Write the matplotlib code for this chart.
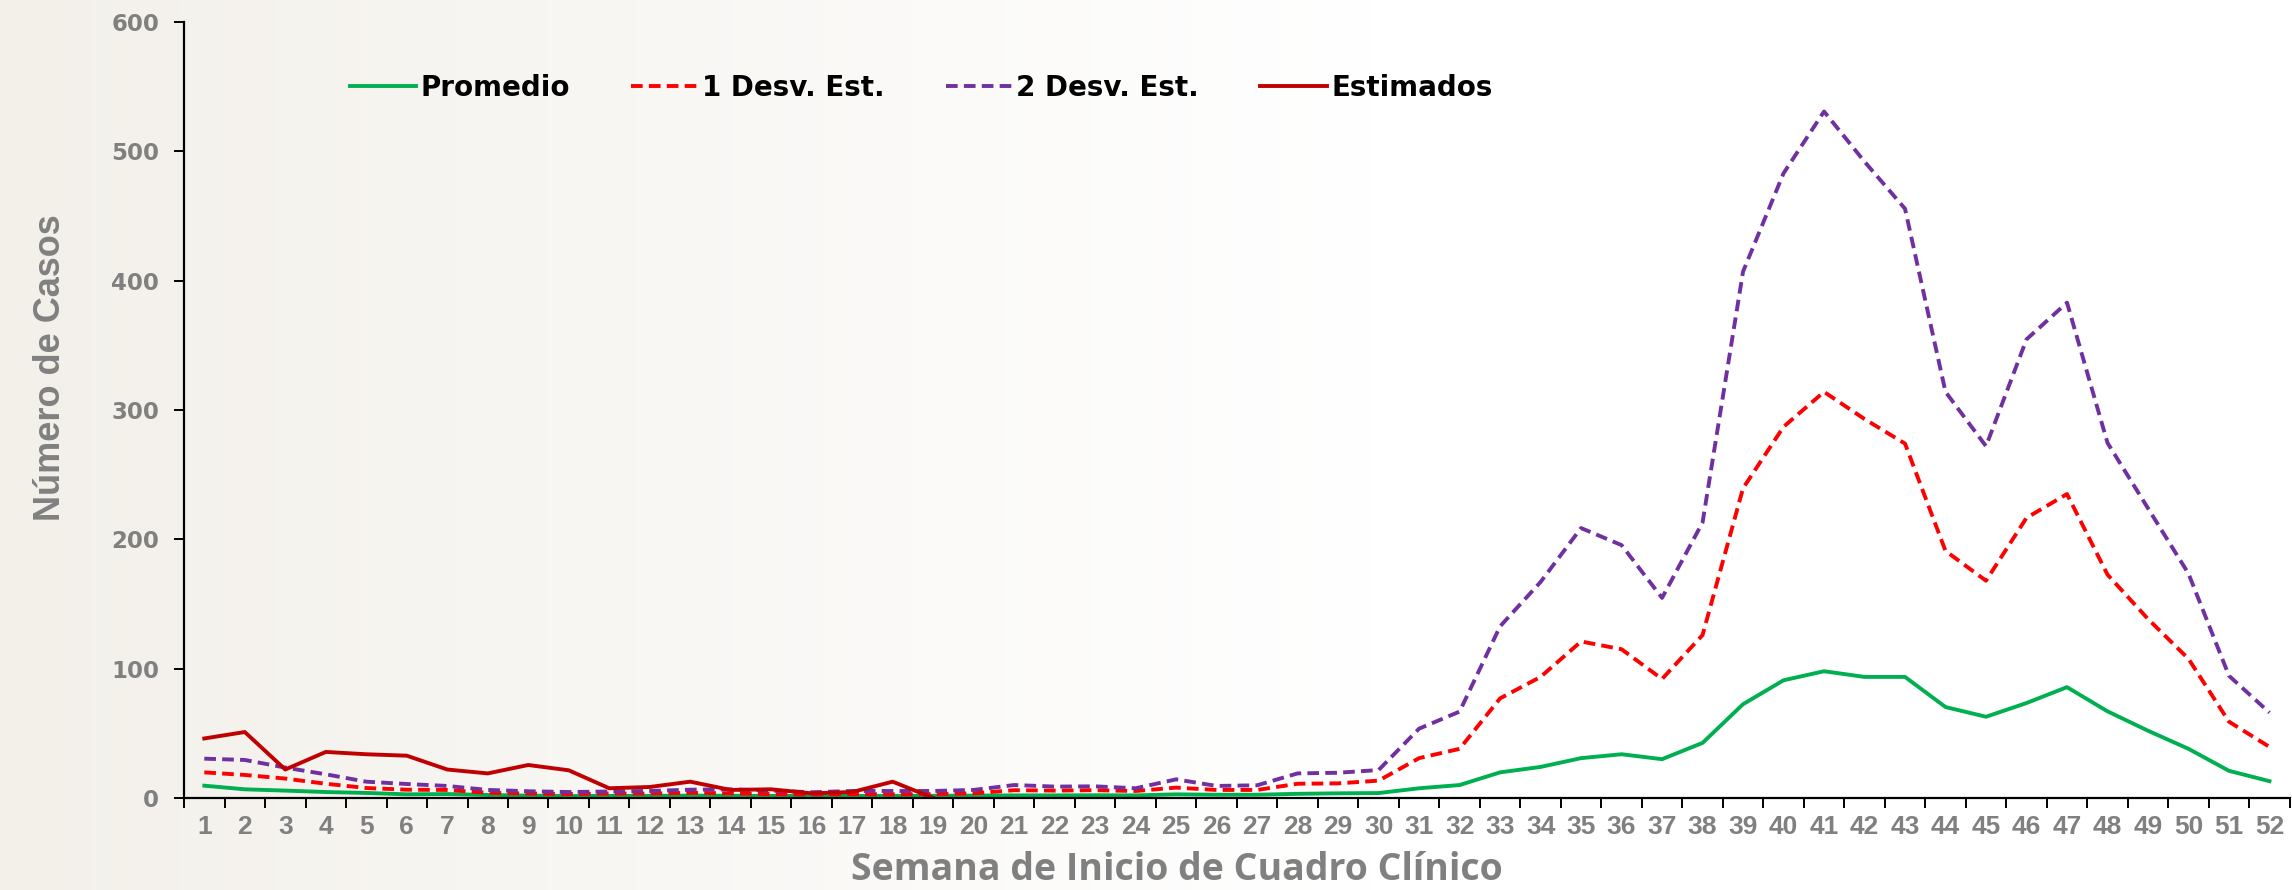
import numpy as np
import matplotlib
matplotlib.use("Agg")
import matplotlib.pyplot as plt
from matplotlib.ticker import MultipleLocator, FixedLocator

# Weeks 1-52
semanas = list(range(1, 53))

promedio = [9.5, 6.7, 5.7, 4.6, 3.9, 2.8, 3.0, 2.3, 1.8, 1.5,
            1.6, 1.6, 1.8, 1.7, 1.6, 1.5, 1.6, 1.6, 1.7, 1.8,
            2.0, 2.0, 2.1, 2.0, 2.8, 2.5, 2.5, 3.2, 3.6, 3.8,
            7.5, 10.0, 19.8, 24.0, 30.8, 33.8, 30.0, 42.6, 72.5, 91.0,
            98.0, 93.6, 93.6, 70.3, 62.8, 73.4, 85.7, 67.0, 52.0, 38.0,
            21.0, 13.0]

desv1 = [19.8, 17.8, 15.0, 11.0, 7.7, 6.4, 6.2, 4.0, 3.4, 3.1,
         3.4, 3.4, 4.0, 3.6, 3.0, 2.8, 3.0, 2.8, 3.0, 3.6,
         6.0, 5.7, 6.0, 5.4, 8.0, 6.2, 6.2, 11.0, 11.3, 13.4,
         30.8, 38.0, 77.0, 93.6, 121.0, 115.0, 92.0, 126.0, 239.5, 287.0,
         314.0, 293.0, 274.0, 191.0, 168.0, 216.6, 235.0, 172.7, 138.4, 107.6,
         59.0, 39.5]

desv2 = [30.4, 29.4, 23.5, 18.3, 12.6, 10.8, 9.3, 6.2, 5.2, 4.6,
         5.0, 5.4, 6.4, 6.7, 5.7, 4.4, 5.4, 5.4, 5.4, 6.2,
         10.0, 8.8, 9.0, 7.5, 14.4, 9.3, 9.8, 19.0, 19.5, 21.6,
         53.6, 66.8, 132.7, 167.0, 208.7, 195.5, 154.7, 213.0, 407.0, 483.0,
         530.8, 492.0, 455.6, 314.0, 272.0, 354.6, 383.0, 274.6, 224.0, 173.5,
         94.5, 66.0]

# Estimated cases only up to week 19
sem_est = list(range(1, 20))
estimados = [46.0, 51.0, 22.0, 35.6, 33.8, 32.7, 22.0, 19.0, 25.5, 21.4,
             7.5, 8.5, 12.6, 6.2, 6.7, 3.6, 4.6, 12.6, 0.0]

gris = '#808080'

fig = plt.figure(figsize=(22.92, 8.9), dpi=100)
fig.patch.set_facecolor('white')

# faint beige background fading to white
bg = fig.add_axes([0, 0, 1, 1], zorder=-10)
grad = np.linspace(0, 1, 256)
alpha = np.clip(1 - grad / 0.6, 0, 1)
img = np.ones((1, 256, 4))
img[..., 0] = 0.955
img[..., 1] = 0.945
img[..., 2] = 0.918
img[..., 3] = alpha
bg.imshow(img, aspect='auto', extent=[0, 1, 0, 1])
bg.axis('off')

ax = fig.add_axes([0.0803, 0.1034, 0.9187, 0.8719])
ax.patch.set_alpha(0)

ax.plot(semanas, promedio, color='#00B050', lw=2.8, label='Promedio')
ax.plot(semanas, desv1, color='#FF0000', lw=2.8, dashes=(3, 1.6), label='1 Desv. Est.')
ax.plot(semanas, desv2, color='#7030A0', lw=2.8, dashes=(3, 1.6), label='2 Desv. Est.')
ax.plot(sem_est, estimados, color='#C00000', lw=2.8, label='Estimados')

ax.set_xlim(0.5, 52.5)
ax.set_ylim(0, 600)
ax.yaxis.set_major_locator(MultipleLocator(100))
ax.xaxis.set_major_locator(FixedLocator(semanas))
ax.xaxis.set_minor_locator(FixedLocator([s + 0.5 for s in range(0, 53)]))

for s in ['top', 'right']:
    ax.spines[s].set_visible(False)
for s in ['left', 'bottom']:
    ax.spines[s].set_linewidth(1.6)
    ax.spines[s].set_color('black')

ax.tick_params(axis='y', direction='out', length=7, width=1.4, pad=11,
               labelcolor=gris, labelsize=16.5)
ax.tick_params(axis='x', which='major', length=0, pad=12, labelcolor=gris)
ax.tick_params(axis='x', which='minor', direction='out', length=7, width=1.4)

for lbl in ax.get_yticklabels():
    lbl.set_fontweight('bold')
    lbl.set_family('DejaVu Sans')
for lbl in ax.get_xticklabels():
    lbl.set_fontweight('bold')
    lbl.set_family(['Liberation Sans', 'DejaVu Sans'])
    lbl.set_fontsize(19)

ax.set_xlabel('Semana de Inicio de Cuadro Clínico', fontsize=27, fontweight='bold',
              color=gris, family=['Open Sans', 'DejaVu Sans'])
ax.xaxis.set_label_coords(0.4715, -0.068)
ax.set_ylabel('Número de Casos', fontsize=26, fontweight='bold', color=gris,
              family=['Liberation Sans', 'DejaVu Sans'])
ax.yaxis.set_label_coords(-0.055, 0.554)

leg = ax.legend(loc='center left', bbox_to_anchor=(0.072, 0.915), ncol=4,
                frameon=False, handlelength=2.4, handletextpad=0.15,
                columnspacing=2.2, borderpad=0,
                prop={'family': 'DejaVu Sans', 'weight': 'bold', 'size': 20})

fig.savefig('out.png', dpi=100)
